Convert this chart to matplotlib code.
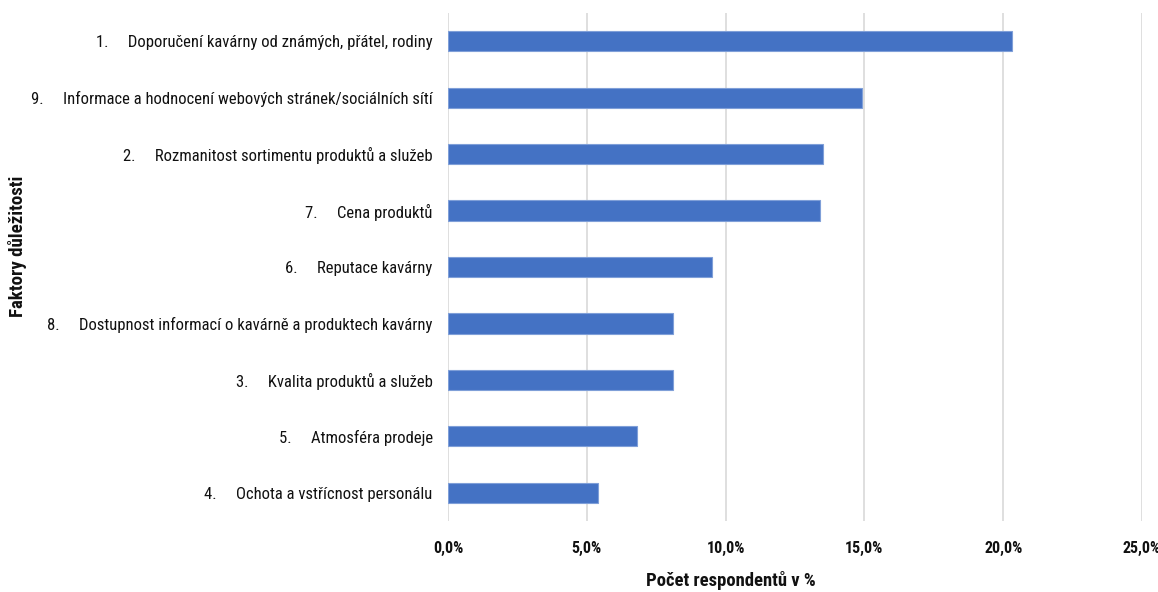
import matplotlib
matplotlib.use("Agg")
import matplotlib.pyplot as plt
from matplotlib.ticker import FuncFormatter

plt.rcParams["font.family"] = ["Roboto Condensed", "Barlow Semi Condensed", "DejaVu Sans"]

# faktory seřazené shora dolů (číslo faktoru, popis, podíl respondentů v %)
factor_no = [1, 9, 2, 7, 6, 8, 3, 5, 4]
factor_text = [
    "Doporučení kavárny od známých, přátel, rodiny",
    "Informace a hodnocení webových stránek/sociálních sítí",
    "Rozmanitost sortimentu produktů a služeb",
    "Cena produktů",
    "Reputace kavárny",
    "Dostupnost informací o kavárně a produktech kavárny",
    "Kvalita produktů a služeb",
    "Atmosféra prodeje",
    "Ochota a vstřícnost personálu",
]
share_pct = [20.3, 14.9, 13.5, 13.4, 9.5, 8.1, 8.1, 6.8, 5.4]
x_ticks = [0, 5, 10, 15, 20, 25]

labels = [f"{n}.     {t}" for n, t in zip(factor_no, factor_text)]
ypos = list(range(len(labels)))

fig = plt.figure(figsize=(11.58, 5.92), dpi=100)
ax = fig.add_axes([448 / 1158, 1 - 521 / 592, (1142 - 448) / 1158, (521 - 13) / 592])

ax.barh(ypos, share_pct, height=0.36, color="#4472C4",
        edgecolor="#7f9fd8", linewidth=0.8, zorder=3)

ax.set_ylim(len(labels) - 0.5, -0.5)
ax.set_xlim(0, 25)
ax.set_xticks(x_ticks)
ax.xaxis.set_major_formatter(FuncFormatter(lambda v, p: f"{v:.1f}%".replace(".", ",")))
ax.set_yticks(ypos)
ax.set_yticklabels(labels, fontsize=12.0, color="#111111")
ax.tick_params(axis="y", length=0, pad=11)
ax.tick_params(axis="x", length=0, pad=14.5, labelsize=11.5, labelcolor="#111111")
for t in ax.get_xticklabels():
    t.set_fontweight("bold")

ax.grid(axis="x", color="#d9d9d9", linewidth=1.2, zorder=0)
for s in ax.spines.values():
    s.set_visible(False)

fig.text(731 / 1158, 1 - 581 / 592, "Počet respondentů v %", ha="center", va="center",
         fontsize=13.4, fontweight="bold", color="#111111")
fig.text(18 / 1158, 1 - 246 / 592, "Faktory důležitosti", ha="center", va="center",
         rotation=90, fontsize=13.6, fontweight="bold", color="#111111")

fig.savefig("out.png", dpi=100, facecolor="white")
